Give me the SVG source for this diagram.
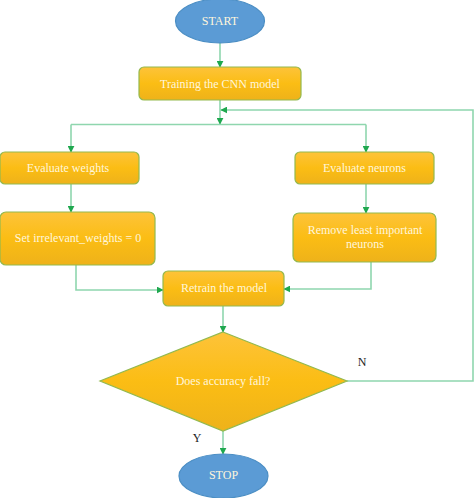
<svg xmlns="http://www.w3.org/2000/svg" width="474" height="498" viewBox="0 0 474 498">
<defs>
<linearGradient id="gold" x1="0" y1="0" x2="0" y2="1">
<stop offset="0" stop-color="#fdc33a"/>
<stop offset="0.5" stop-color="#fbbd14"/>
<stop offset="1" stop-color="#eeb21a"/>
</linearGradient>
<marker id="arr" viewBox="0 0 10 10" refX="9" refY="5" markerWidth="7" markerHeight="7" markerUnits="userSpaceOnUse" orient="auto">
<path d="M0,0 L10,5 L0,10 z" fill="#1fa84f"/>
</marker>
</defs>
<style>
.box{fill:url(#gold);stroke:#93b94e;stroke-width:1.2}
.term{fill:#5b9bd5;stroke:#4b8ec4;stroke-width:1.2}
.t{font-family:"Liberation Serif",serif;font-size:12px;fill:#fff6dc;text-anchor:middle;dominant-baseline:central}
.lbl{font-family:"Liberation Serif",serif;font-size:12px;fill:#222;text-anchor:middle;dominant-baseline:central}
.c{fill:none;stroke:#8fd6ae;stroke-width:1.6}
</style>
<rect width="474" height="498" fill="#fff"/>
<g id="connectors">
<path class="c" d="M220,43 V67" marker-end="url(#arr)"/>
<path class="c" d="M220,100 V124" marker-end="url(#arr)"/>
<path class="c" d="M71,124.5 H366"/>
<path class="c" d="M71,124.5 V152" marker-end="url(#arr)"/>
<path class="c" d="M366,124.5 V152" marker-end="url(#arr)"/>
<path class="c" d="M71,184 V212" marker-end="url(#arr)"/>
<path class="c" d="M366,184 V213" marker-end="url(#arr)"/>
<path class="c" d="M76,265 V290 H163" marker-end="url(#arr)"/>
<path class="c" d="M371,262 V289 H284" marker-end="url(#arr)"/>
<path class="c" d="M223,306 V332" marker-end="url(#arr)"/>
<path class="c" d="M347,381 H473 V110 H221" marker-end="url(#arr)"/>
<path class="c" d="M223,431 V454" marker-end="url(#arr)"/>
</g>
<g id="start">
<ellipse class="term" cx="220" cy="21" rx="44.5" ry="22"/>
<text class="t" x="220" y="21">START</text>
</g>
<g id="train">
<rect class="box" x="139" y="67" width="162" height="33" rx="5"/>
<text class="t" x="220" y="83.5">Training the CNN model</text>
</g>
<g id="evalw">
<rect class="box" x="0" y="152" width="139" height="32" rx="5"/>
<text class="t" x="68" y="168">Evaluate weights</text>
</g>
<g id="evaln">
<rect class="box" x="295" y="152" width="139" height="32" rx="5"/>
<text class="t" x="364.5" y="168">Evaluate neurons</text>
</g>
<g id="setw">
<rect class="box" x="0" y="212" width="155" height="53" rx="6"/>
<text class="t" x="78" y="238">Set irrelevant_weights = 0</text>
</g>
<g id="remove">
<rect class="box" x="293" y="213" width="143" height="49" rx="6"/>
<text class="t" x="365" y="230">Remove least important</text>
<text class="t" x="365" y="244">neurons</text>
</g>
<g id="retrain">
<rect class="box" x="163" y="271" width="121" height="35" rx="5"/>
<text class="t" x="224" y="288">Retrain the model</text>
</g>
<g id="decision">
<polygon class="box" points="223,332 347,381 223,431 100,381"/>
<text class="t" x="223" y="381">Does accuracy fall?</text>
</g>
<g id="stop">
<ellipse class="term" cx="223.5" cy="476" rx="44.5" ry="22"/>
<text class="t" x="223.5" y="475">STOP</text>
</g>
<text class="lbl" x="362" y="362">N</text>
<text class="lbl" x="197" y="438">Y</text>
</svg>
